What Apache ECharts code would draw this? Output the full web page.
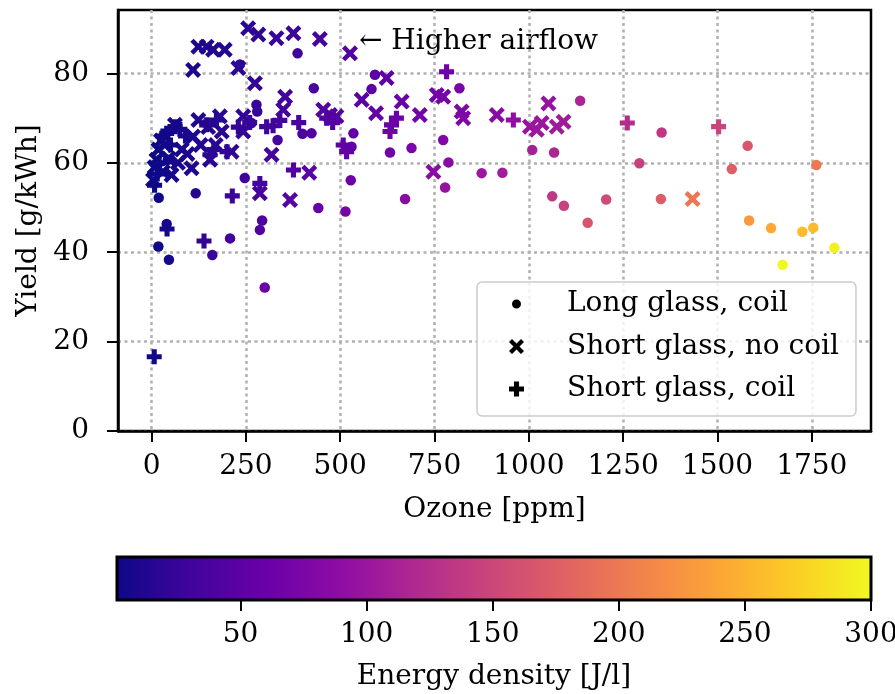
<!DOCTYPE html>
<html><head><meta charset="utf-8">
<script src="https://cdn.jsdelivr.net/npm/echarts@6/dist/echarts.min.js"></script>
<style>html,body{margin:0;padding:0;background:#fff}#c{width:895px;height:694px}</style>
</head><body><div id="c"></div>
<script>
const FONT = 'DejaVu Serif';
const seriesNames = ['Long glass, coil', 'Short glass, no coil', 'Short glass, coil'];
const xTicks = [0, 250, 500, 750, 1000, 1250, 1500, 1750];
const yTicks = [0, 20, 40, 60, 80];
const cbTicks = [50, 100, 150, 200, 250, 300];
const cbRange = [[1, 300]];
const annotationText = '\u2190 Higher airflow';
// [ozone ppm, yield g/kWh, energy density J/l]
const longGlassCoil = [
  [19,52.2,2],[117,53.2,15],[247,56.6,29],[40,46.3,6],[18,41.3,3],[46,38.3,8],[161,39.4,27],[208,43.1,32],
  [300,32.1,62],[293,47.1,41],[287,45.0,42],[442,49.9,59],[514,49.1,70],[528,56.1,63],[530,63.6,55],
  [387,84.5,30],[430,76.7,37],[278,73.0,25],[280,71.5,26],[265,68.9,26],[400,66.5,40],[424,66.6,42],
  [334,65.1,34],[535,66.6,53],[234,82.0,19],[592,79.7,49],[583,76.5,51],[632,62.3,67],[689,63.3,72],
  [816,76.7,71],[773,65.1,79],[787,60.1,87],[778,54.5,95],[875,57.7,101],[930,57.8,107],[1009,62.9,110],
  [1067,62.3,116],[1136,73.9,115],[1062,52.5,135],[1093,50.4,144],[1156,46.6,165],[1205,51.8,155],
  [672,51.9,86],[1352,66.8,135],[1293,59.9,144],[1350,51.9,173],[1580,63.8,168],[1538,58.6,175],
  [1762,59.5,200],[1584,47.1,228],[1642,45.4,241],[1725,44.6,257],[1754,45.5,256],[1810,41.0,294],
  [1673,37.2,299],[43,60.7,5]
];
const shortGlassNoCoil = [
  [256,90.1,19],[283,88.7,21],[331,87.9,25],[376,89.0,28],[446,87.7,34],[526,84.5,41],[124,86.0,10],
  [146,86.0,11],[163,85.3,13],[194,85.3,15],[110,80.8,9],[230,81.2,19],[274,77.8,23],[354,74.8,31],
  [349,71.9,32],[243,70.4,23],[455,71.9,42],[473,70.7,44],[490,70.4,46],[557,74.1,50],[181,70.4,17],
  [124,69.6,12],[62,68.5,6],[243,67.0,24],[186,67.0,18],[110,65.9,11],[318,61.8,34],[212,62.5,23],
  [155,60.7,17],[106,58.8,12],[53,57.3,6],[13,60.7,1.5],[4,56.2,1],[418,57.8,48],[1434,51.9,198],
  [287,53.2,36],[367,51.7,47],[623,79.0,52],[595,71.1,56],[663,73.7,60],[711,70.7,67],[756,75.2,67],
  [773,74.8,69],[822,71.5,76],[826,70.0,78],[915,70.7,86],[1003,68.1,98],[1021,67.4,101],[1034,68.9,100],
  [1052,73.3,95],[1074,68.1,105],[1092,69.2,105],[747,58.0,86],[8,59,1],[18,63,2],[25,65,3],[35,64,4],
  [45,61,5],[80,63,8],[95,62,10],[130,64,14],[170,64,18],[150,68,15],[30,58,3],[70,60,8]
];
const shortGlassCoil = [
  [7,16.6,3],[41,45.2,6],[214,52.6,27],[139,42.5,22],[287,55.4,34],[376,58.4,43],[1261,68.9,122],
  [1503,68.1,147],[782,80.4,65],[636,68.5,62],[632,67.0,63],[649,70.0,62],[959,69.6,92],[508,64.0,53],
  [517,62.5,55],[322,68.3,31],[305,68.1,30],[146,68.5,14],[172,69.6,16],[155,61.8,17],[40,66.6,4],
  [62,68.1,6],[464,70.0,44],[480,69.0,46],[8,55,1],[15,57.5,2],[20,60,2],[30,66,3],[50,64,5],[75,67.5,7],
  [90,66,9],[165,63,17],[200,62.5,21],[230,68,22],[260,69,25],[340,69.5,33],[390,69,38]
];
const plasma = ['#0d0887','#41049d','#6a00a8','#8f0da4','#b12a90','#cc4778','#e16462','#f2844b','#fca636','#fcce25','#f0f921'];

const X_PATH = 'path://M2,0L5,3L8,0L10,2L7,5L10,8L8,10L5,7L2,10L0,8L3,5L0,2Z';
const P_PATH = 'path://M3.3,0H6.7V3.3H10V6.7H6.7V10H3.3V6.7H0V3.3H3.3Z';
const SMALL_CIRCLE_ICON = 'path://M0,0L0.01,0Z M15,15L15.01,15Z M3,7.5A4.5,4.5,0,1,0,12,7.5A4.5,4.5,0,1,0,3,7.5Z';
const symbols = ['circle', X_PATH, P_PATH];
const legendIcons = [SMALL_CIRCLE_ICON, X_PATH, P_PATH];
const sizes = [10.5, 16, 15];
const datasets = [longGlassCoil, shortGlassNoCoil, shortGlassCoil];

const chart = echarts.init(document.getElementById('c'), null, {renderer: 'canvas'});
const gridLine = {show: true, lineStyle: {color: '#b0b0b0', width: 2.5, type: [3, 3.5]}};
const FS = 28;
const txt = {fontFamily: FONT, fontSize: FS, color: '#000'};
const fmt = v => String(v);

const option = {
  animation: false,
  backgroundColor: '#fff',
  textStyle: {fontFamily: FONT},
  grid: [
    {left: 118, top: 10, width: 753, height: 421, show: true, borderColor: '#000', borderWidth: 2.5,
     backgroundColor: 'transparent', outerBoundsMode: 'none', containLabel: false},
    {left: 117, top: 557, width: 754, height: 43, outerBoundsMode: 'none', containLabel: false}
  ],
  xAxis: [
    {gridIndex: 0, type: 'value', min: -89, max: 1907, name: 'Ozone [ppm]', nameLocation: 'middle', nameGap: 65,
     nameTextStyle: txt,
     axisLine: {show: true, onZero: false, lineStyle: {color: '#000', width: 2.5}},
     axisTick: {show: true, length: 11, lineStyle: {color: '#000', width: 2}, customValues: xTicks},
     axisLabel: {...txt, margin: 22, formatter: fmt, customValues: xTicks},
     splitLine: gridLine},
    {gridIndex: 1, type: 'value', min: 1, max: 300, name: 'Energy density [J/l]', nameLocation: 'middle', nameGap: 63,
     nameTextStyle: txt,
     axisLine: {show: false, onZero: false},
     axisTick: {show: true, length: 11, lineStyle: {color: '#000', width: 2}, customValues: cbTicks},
     axisLabel: {...txt, margin: 21, formatter: fmt, customValues: cbTicks},
     splitLine: {show: false}}
  ],
  yAxis: [
    {gridIndex: 0, type: 'value', min: 0, max: 94.2, name: 'Yield [g/kWh]', nameLocation: 'middle', nameGap: 70,
     nameTextStyle: txt,
     axisLine: {show: true, onZero: false, lineStyle: {color: '#000', width: 2.5}},
     axisTick: {show: true, length: 11, lineStyle: {color: '#000', width: 2}, customValues: yTicks},
     axisLabel: {...txt, margin: 29, formatter: fmt, customValues: yTicks},
     splitLine: gridLine},
    {gridIndex: 1, type: 'value', min: 0, max: 1, show: false}
  ],
  visualMap: {
    type: 'continuous', show: false, min: 1, max: 300, dimension: 2, seriesIndex: [0, 1, 2],
    inRange: {color: plasma}
  },
  legend: {
    orient: 'vertical', left: 477, top: 282,
    backgroundColor: 'rgba(255,255,255,0.82)', borderColor: '#cccccc', borderWidth: 1.5, borderRadius: 5,
    padding: [8, 17, 13, 32], itemGap: 14.5, itemWidth: 15, itemHeight: 15,
    textStyle: {...txt, lineHeight: 28, padding: [0, 0, 0, 38]},
    data: seriesNames.map((n, i) => ({name: n, icon: legendIcons[i], itemStyle: {color: '#000'}}))
  },
  graphic: [
    {type: 'text', left: 359, top: 28, style: {text: annotationText, font: FS + 'px "DejaVu Serif"', fill: '#000'}}
  ],
  series: [
    ...datasets.map((d, i) => ({
      type: 'scatter', name: seriesNames[i], xAxisIndex: 0, yAxisIndex: 0,
      data: d, symbol: symbols[i], symbolSize: sizes[i], encode: {x: 0, y: 1},
      itemStyle: {opacity: 1}, z: 2 + i
    })),
    {
      type: 'custom', xAxisIndex: 1, yAxisIndex: 1, data: cbRange, encode: {x: [0, 1]},
      renderItem: function (params, api) {
        const p0 = api.coord([api.value(0), 0]);
        const p1 = api.coord([api.value(1), 1]);
        return {
          type: 'rect',
          shape: {x: p0[0], y: p1[1], width: p1[0] - p0[0], height: p0[1] - p1[1]},
          style: {
            fill: new echarts.graphic.LinearGradient(0, 0, 1, 0,
              plasma.map((c, k) => ({offset: k / (plasma.length - 1), color: c}))),
            stroke: '#000', lineWidth: 3
          }
        };
      }
    }
  ]
};
chart.setOption(option);
</script></body></html>
